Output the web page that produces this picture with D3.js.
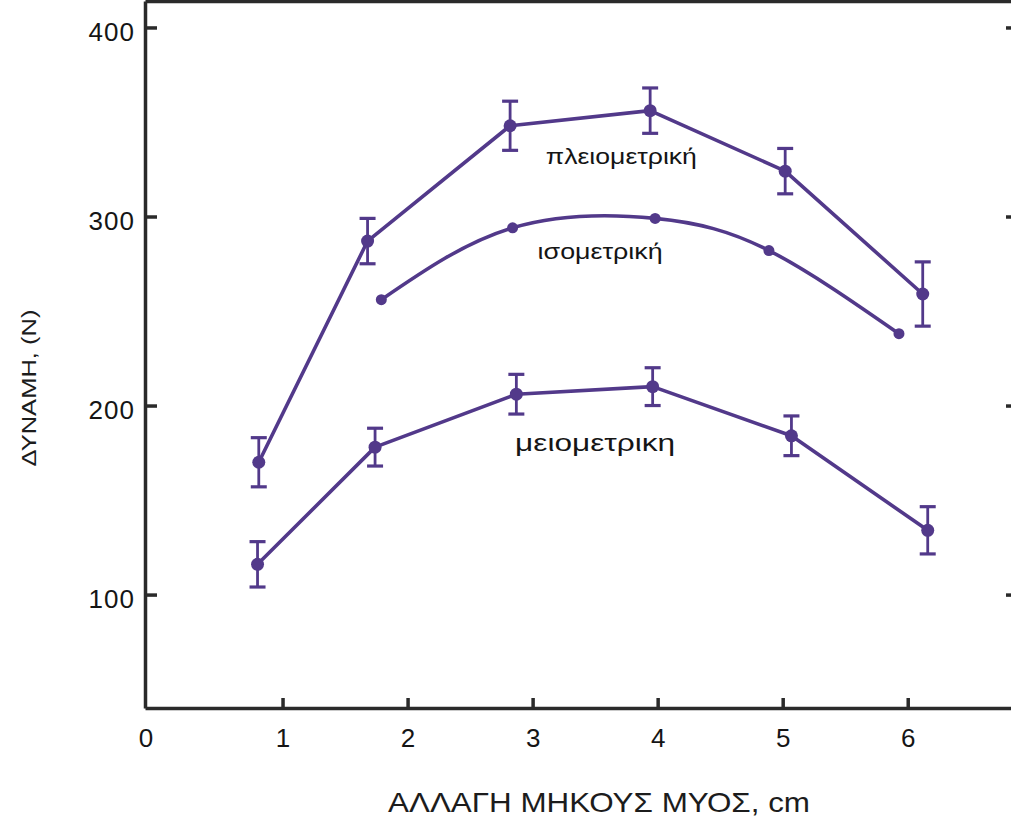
<!DOCTYPE html>
<html>
<head>
<meta charset="utf-8">
<script src="https://cdn.jsdelivr.net/npm/d3@7"></script>
<style>
    body { margin: 0; background: #fff; }
    svg { display: block; font-family: "Liberation Sans", Arial, sans-serif; }
    .axis path, .axis line { stroke: #2a2a2a; stroke-width: 3.5; }
    .axis text { fill: #151515; }
</style>
</head>
<body>
<svg id="chart" width="1011" height="819"></svg>
<script>
// Values (x: cm, y: force in N)
var pleioX = [0.81, 1.68, 2.82, 3.94, 5.02, 6.12];
var pleioY = [170, 287, 348, 356, 324, 259];
var pleioErr = [13, 12, 13, 12, 12, 17];

var isoX = [1.79, 2.84, 3.98, 4.89, 5.93];
var isoY = [256, 294, 299, 282, 238];

var meioX = [0.80, 1.74, 2.87, 3.96, 5.07, 6.16];
var meioY = [116, 178, 206, 210, 184, 134];
var meioErr = [12, 10, 10.5, 10, 10.5, 12.5];

var xTicks = [1, 2, 3, 4, 5, 6];
var yTicks = [100, 200, 300, 400];

var xTitle = "ΑΛΛΑΓΗ ΜΗΚΟΥΣ ΜΥΟΣ, cm";
var yTitle = "ΔΥΝΑΜΗ,  (N)";

var ink = "#52398a";
var svg = d3.select("#chart");

//Create scale functions
var xScale = d3.scaleLinear().domain([-0.1, 6.85]).range([145, 1014]);
var yScale = d3.scaleLinear().domain([40, 414]).range([708, 1]);

function points(xs, ys, errs) {
    return xs.map(function (x, i) {
        return {x: x, y: ys[i], err: errs ? errs[i] : 0};
    });
}
var series = [
    {name: "πλειομετρική", data: points(pleioX, pleioY, pleioErr), curve: d3.curveLinear, r: 6.5, bars: true},
    {name: "ισομετρική", data: points(isoX, isoY), curve: d3.curveNatural, r: 5.5, bars: false},
    {name: "μειομετρικη", data: points(meioX, meioY, meioErr), curve: d3.curveLinear, r: 6.5, bars: true}
];

// Axes (ticks point inwards, like the printed figure)
var xAxis = d3.axisBottom(xScale).tickValues(xTicks).tickFormat(d3.format("d"))
    .tickSize(-10).tickSizeOuter(0).tickPadding(21);
var yAxis = d3.axisLeft(yScale).tickValues(yTicks).tickFormat(d3.format("d"))
    .tickSize(-12).tickSizeOuter(0).tickPadding(10);
var rightAxis = d3.axisRight(yScale).tickValues(yTicks).tickFormat("")
    .tickSize(-8).tickSizeOuter(0);
var topAxis = d3.axisTop(xScale).tickValues([]).tickSizeOuter(0);

svg.append("g").attr("class", "x axis")
    .attr("transform", "translate(0," + yScale(40) + ")")
    .call(xAxis)
    .selectAll("text").style("font-size", "26px");

svg.append("g").attr("class", "y axis")
    .attr("transform", "translate(" + xScale(-0.1) + ",0)")
    .call(yAxis)
    .selectAll("text").style("font-size", "26px").style("letter-spacing", "1px").attr("dy", "0.5em");

svg.append("g").attr("class", "axis")
    .attr("transform", "translate(" + xScale(6.85) + ",0)")
    .call(rightAxis);

svg.append("g").attr("class", "axis")
    .attr("transform", "translate(0," + yScale(414) + ")")
    .call(topAxis);

// origin label
svg.append("text")
    .attr("x", xScale(-0.1) + 1)
    .attr("y", yScale(40) + 21)
    .attr("dy", "0.71em")
    .attr("text-anchor", "middle")
    .style("font-size", "26px")
    .style("fill", "#151515")
    .text("0");

// Axis titles
svg.append("text")
    .attr("x", 599).attr("y", 812)
    .attr("text-anchor", "middle")
    .attr("textLength", 422).attr("lengthAdjust", "spacingAndGlyphs")
    .style("font-size", "28px").style("fill", "#1c1c1c")
    .text(xTitle);

svg.append("text")
    .attr("transform", "translate(36,388) rotate(-90)")
    .attr("text-anchor", "middle")
    .attr("textLength", 157).attr("lengthAdjust", "spacingAndGlyphs")
    .style("font-size", "21px").style("fill", "#1c1c1c")
    .text(yTitle);

// Draw lines, error bars and markers
series.forEach(function (s) {
    var line = d3.line().curve(s.curve)
        .x(function (d) { return xScale(d.x); })
        .y(function (d) { return yScale(d.y); });

    svg.append("path")
        .datum(s.data)
        .attr("d", line)
        .attr("fill", "none")
        .attr("stroke", ink)
        .attr("stroke-width", 3.6)
        .attr("stroke-linejoin", "round");

    if (s.bars) {
        var bars = svg.append("g").selectAll("g")
            .data(s.data).enter().append("g")
            .attr("stroke", ink);
        bars.append("line")
            .attr("x1", function (d) { return xScale(d.x); })
            .attr("x2", function (d) { return xScale(d.x); })
            .attr("y1", function (d) { return yScale(d.y - d.err); })
            .attr("y2", function (d) { return yScale(d.y + d.err); })
            .attr("stroke-width", 2.8);
        [-1, 1].forEach(function (sign) {
            bars.append("line")
                .attr("x1", function (d) { return xScale(d.x) - 8; })
                .attr("x2", function (d) { return xScale(d.x) + 8; })
                .attr("y1", function (d) { return yScale(d.y + sign * d.err); })
                .attr("y2", function (d) { return yScale(d.y + sign * d.err); })
                .attr("stroke-width", 3.2);
        });
    }

    svg.append("g").selectAll("circle")
        .data(s.data).enter().append("circle")
        .attr("cx", function (d) { return xScale(d.x); })
        .attr("cy", function (d) { return yScale(d.y); })
        .attr("r", s.r)
        .attr("fill", ink);
});

// Series labels
var labels = [
    {text: series[0].name, x: 3.71, y: 331.5, w: 151, size: 22},
    {text: series[1].name, x: 3.54, y: 281, w: 125, size: 22},
    {text: series[2].name, x: 3.50, y: 180, w: 160, size: 24}
];
svg.append("g").selectAll("text")
    .data(labels).enter().append("text")
    .attr("x", function (d) { return xScale(d.x); })
    .attr("y", function (d) { return yScale(d.y); })
    .attr("dy", "0.3em")
    .attr("text-anchor", "middle")
    .attr("textLength", function (d) { return d.w; })
    .attr("lengthAdjust", "spacingAndGlyphs")
    .style("font-size", function (d) { return d.size + "px"; })
    .style("fill", "#151515")
    .text(function (d) { return d.text; });
</script>
</body>
</html>
